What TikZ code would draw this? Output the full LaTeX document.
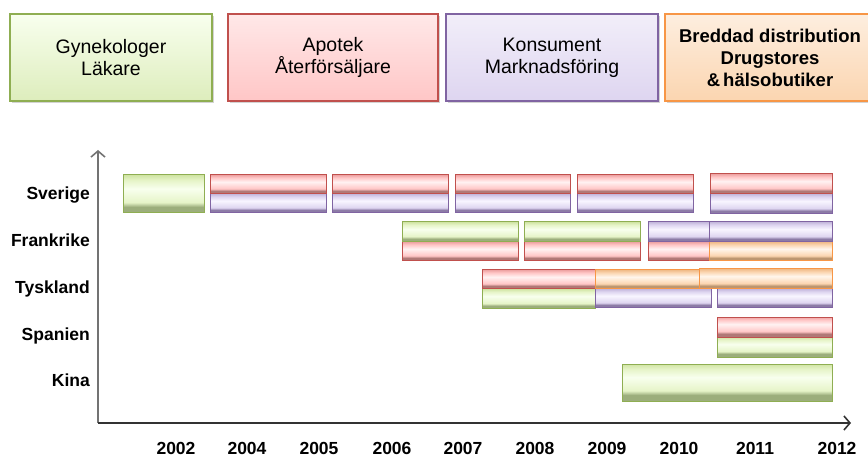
\documentclass[tikz,border=0pt]{standalone}
\usepackage{fontspec}
\setmainfont{Liberation Sans}
\usetikzlibrary{fit,arrows.meta,shadows}
\definecolor{Gb}{HTML}{8FAE52}\definecolor{GL}{HTML}{E6F4C8}\definecolor{GD}{HTML}{9CAE7C}\definecolor{GT}{HTML}{D0E4A4}\definecolor{GW}{HTML}{F8FFEE}
\definecolor{Rb}{HTML}{C0504D}\definecolor{RL}{HTML}{FFC6C6}\definecolor{RD}{HTML}{B07876}\definecolor{RT}{HTML}{EEA4A4}\definecolor{RW}{HTML}{FFF2F2}
\definecolor{Pb}{HTML}{8064A2}\definecolor{PL}{HTML}{DED5F0}\definecolor{PD}{HTML}{8C7BA6}\definecolor{PT}{HTML}{C4B8DC}\definecolor{PW}{HTML}{F8F5FF}
\definecolor{Ob}{HTML}{F79646}\definecolor{OL}{HTML}{FBD5B0}\definecolor{OD}{HTML}{BC9670}\definecolor{OT}{HTML}{F0BC8A}\definecolor{OW}{HTML}{FFF6EC}
\pgfdeclareverticalshading{shG}{100bp}{color(0bp)=(GD); color(25bp)=(GD); color(33bp)=(GD); color(39bp)=(GL); color(57bp)=(GW); color(68bp)=(GL); color(75bp)=(GT); color(100bp)=(GT)}
\pgfdeclareverticalshading{shR}{100bp}{color(0bp)=(RD); color(25bp)=(RD); color(33bp)=(RD); color(39bp)=(RL); color(57bp)=(RW); color(68bp)=(RL); color(75bp)=(RT); color(100bp)=(RT)}
\pgfdeclareverticalshading{shP}{100bp}{color(0bp)=(PD); color(25bp)=(PD); color(33bp)=(PD); color(39bp)=(PL); color(57bp)=(PW); color(68bp)=(PL); color(75bp)=(PT); color(100bp)=(PT)}
\pgfdeclareverticalshading{shO}{100bp}{color(0bp)=(OD); color(25bp)=(OD); color(33bp)=(OD); color(39bp)=(OL); color(57bp)=(OW); color(68bp)=(OL); color(75bp)=(OT); color(100bp)=(OT)}
\tikzset{
  bar/.style={inner sep=0pt, outer sep=0pt, line width=1pt},
  gbar/.style={bar, draw=Gb, shading=shG},
  rbar/.style={bar, draw=Rb, shading=shR},
  pbar/.style={bar, draw=Pb, shading=shP},
  obar/.style={bar, draw=Ob, shading=shO},
  head/.style={inner sep=0pt, outer sep=0pt, line width=1.2pt, minimum height=87pt, align=center,
    font=\fontsize{19.5}{22}\selectfont, drop shadow={opacity=0.35, shadow xshift=2pt, shadow yshift=-2pt}},
  rowlbl/.style={anchor=base east, inner sep=0pt, font=\fontsize{17.5}{20}\selectfont\bfseries},
  yearlbl/.style={anchor=base, inner sep=0pt, font=\fontsize{17.5}{20}\selectfont\bfseries},
  axisline/.style={line width=1.6pt, -{Straight Barb[length=6pt,width=14pt]}},
}
\begin{document}
\begin{tikzpicture}[x=1pt,y=-1pt]
\useasboundingbox (0,0) rectangle (868,457);
\clip (0,0) rectangle (868,457);
% header boxes
\node[head, draw=Gb, top color=GW, bottom color=GL!90!Gb, minimum width=202pt] (hG) at (111,57.5) {Gynekologer\\Läkare};
\node[head, draw=Rb, top color=RL!40!white, bottom color=RL, minimum width=210pt] (hR) at (333,57.5) {Apotek\\Återförsäljare};
\node[head, draw=Pb, top color=PL!40!white, bottom color=PL, minimum width=212pt] (hP) at (552,57.5) {Konsument\\Marknadsföring};
\node[head, draw=Ob, top color=OL!40!white, bottom color=OL, minimum width=210pt, font=\fontsize{18.5}{22}\selectfont\bfseries] (hO) at (770,57.5) {Breddad distribution\\Drugstores\\\&\,hälsobutiker};
% axes
\coordinate (origin) at (98,423);
\coordinate (ytop) at (98,150);
\coordinate (xend) at (851,423);
\draw[axisline, draw=black!55] (origin) -- (ytop);
\draw[axisline, draw=black!80] (origin) -- (xend);
% row labels
\node[rowlbl] (lSv) at (90,200) {Sverige};
\node[rowlbl] (lFr) at (90,247) {Frankrike};
\node[rowlbl] (lTy) at (90,294) {Tyskland};
\node[rowlbl] (lSp) at (90,340) {Spanien};
\node[rowlbl] (lKi) at (90,386) {Kina};
% year labels
\node[yearlbl] (y02) at (176,454) {2002};
\node[yearlbl] (y04) at (247,454) {2004};
\node[yearlbl] (y05) at (319,454) {2005};
\node[yearlbl] (y06) at (392,454) {2006};
\node[yearlbl] (y07) at (463,454) {2007};
\node[yearlbl] (y08) at (535,454) {2008};
\node[yearlbl] (y09) at (607,454) {2009};
\node[yearlbl] (y10) at (679,454) {2010};
\node[yearlbl] (y11) at (755,454) {2011};
\node[yearlbl] (y12) at (837,454) {2012};
% Sverige
\node[gbar, fit={(123,175)(204,213)}] (sv0) {};
\node[pbar, fit={(210,194)(326,213)}] (sv1p) {};
\node[rbar, fit={(210,175)(326,194)}] (sv1r) {};
\node[pbar, fit={(332,194)(448,213)}] (sv2p) {};
\node[rbar, fit={(332,175)(448,194)}] (sv2r) {};
\node[pbar, fit={(455,194)(570,213)}] (sv3p) {};
\node[rbar, fit={(455,175)(570,194)}] (sv3r) {};
\node[pbar, fit={(577,194)(693,213)}] (sv4p) {};
\node[rbar, fit={(577,175)(693,194)}] (sv4r) {};
\node[pbar, fit={(710,194)(832,214)}] (sv5p) {};
\node[rbar, fit={(710,174)(832,194)}] (sv5r) {};
% Frankrike
\node[rbar, fit={(402,242)(518,261)}] (fr1r) {};
\node[gbar, fit={(402,222)(518,242)}] (fr1g) {};
\node[rbar, fit={(524,242)(640,261)}] (fr2r) {};
\node[gbar, fit={(524,222)(640,242)}] (fr2g) {};
\node[rbar, fit={(648,242)(709,261)}] (fr3r) {};
\node[pbar, fit={(648,222)(709,242)}] (fr3p) {};
\node[obar, fit={(709,242)(832,261)}] (fr4o) {};
\node[pbar, fit={(709,222)(832,242)}] (fr4p) {};
% Tyskland
\node[gbar, fit={(482,289)(595,309)}] (ty1g) {};
\node[rbar, fit={(482,270)(595,289)}] (ty1r) {};
\node[pbar, fit={(595,289)(711,308)}] (ty2p) {};
\node[pbar, fit={(717,289)(832,308)}] (ty3p) {};
\node[obar, fit={(595,270)(700,289)}] (ty2o) {};
\node[obar, fit={(699,269)(832,289)}] (ty3o) {};
% Spanien
\node[gbar, fit={(717,337)(832,357)}] (sp1g) {};
\node[rbar, fit={(717,317)(832,337)}] (sp1r) {};
% Kina
\node[gbar, fit={(622,364)(832,401)}] (ki1g) {};
\end{tikzpicture}
\end{document}
